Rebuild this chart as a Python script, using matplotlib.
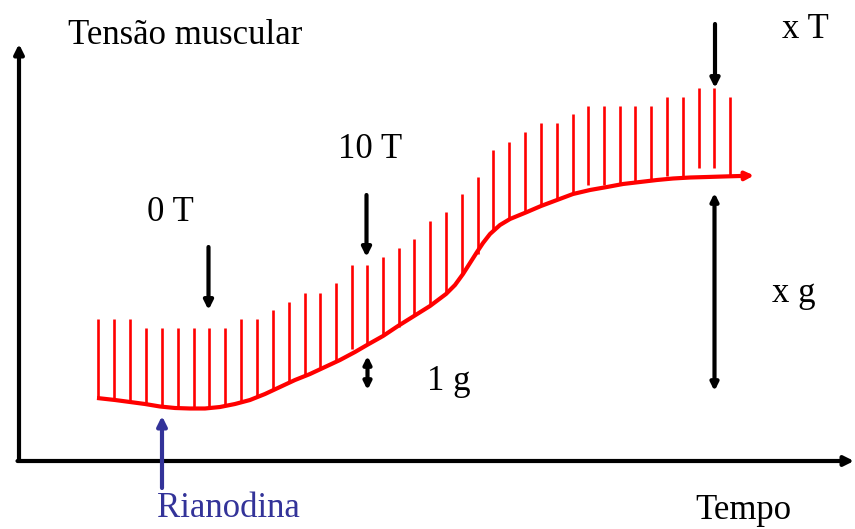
import matplotlib
matplotlib.use("Agg")
import matplotlib.pyplot as plt

# Schematic values (pixel units, y grows downward)
twitch_x = [98, 114, 129.5, 145.5, 161.5, 177.5, 193.5, 209, 225, 241, 256.5,
            272.5, 288.5, 304.5, 320, 336, 351.5, 367, 383, 398.5, 414, 430,
            446, 461.5, 477.5, 493, 509, 525, 541, 556.5, 572.5, 588, 603.5,
            619.5, 635, 651, 667, 682.5, 698.5, 714, 730]
twitch_top = [319, 319, 319, 328, 328, 328, 328, 328, 328, 319, 319,
              310, 302, 293, 293, 283, 265, 265, 257, 248, 239, 221,
              212, 194, 177, 150, 142, 132, 123, 123, 114, 106, 106,
              106, 106, 106, 97, 97, 88, 88, 97]
twitch_bottom = [398, 399, 401, 404, 406, 408, 408, 408, 406, 402, 397,
                 390, 382, 375, 369, 362, 349, 345, 336, 327, 315, 304,
                 292, 275, 254, 230, 220, 213, 206, 200, 194, 185, 185,
                 185, 183, 180, 176, 176, 168, 168, 176]

baseline_x = [97, 115, 130, 145, 160, 175, 190, 205, 220, 235, 250, 265, 280,
              295, 310, 325, 340, 355, 367, 383, 398, 414, 430, 446, 455, 463,
              470, 477, 483, 490, 500, 510, 527, 541, 557, 573, 590, 607, 623,
              640, 657, 673, 690, 707, 723, 740]
baseline_y = [398, 400, 402, 404, 406.5, 408, 408.5, 408.5, 407, 404, 400, 394,
              387, 380, 374, 367, 360, 352, 345, 336, 326, 316, 306, 294, 285,
              274, 263, 252, 243, 234, 225, 219, 212, 206, 200, 194, 190, 187,
              184, 182, 180, 178.5, 177.5, 177, 176.5, 176]

RED = '#FF0000'
BLUE = '#333399'
FONT = 'Liberation Serif'
FS = 25

fig = plt.figure(figsize=(8.55, 5.29), dpi=100)
ax = fig.add_axes([0, 0, 1, 1])
ax.set_xlim(0, 855)
ax.set_ylim(529, 0)
ax.set_axis_off()

# Axes arrows
arrow_k = dict(arrowstyle='-|>', color='black', lw=3, mutation_scale=14,
               shrinkA=0, shrinkB=0)
ax.annotate("", xy=(19, 44), xytext=(19, 461), arrowprops=arrow_k)
ax.annotate("", xy=(854, 461), xytext=(17.5, 461), arrowprops=arrow_k)

# Twitches and baseline tension
ax.vlines(twitch_x, twitch_bottom, twitch_top, color=RED, lw=1.9)
ax.plot(baseline_x, baseline_y, color=RED, lw=3, solid_capstyle='butt',
        solid_joinstyle='round')
ax.annotate("", xy=(754, 175.5), xytext=(baseline_x[-1], baseline_y[-1]),
            arrowprops=dict(arrowstyle='-|>', color=RED, lw=3,
                            mutation_scale=12, shrinkA=0, shrinkB=0))

# Stimulus arrows
down_k = dict(arrowstyle='-|>', color='black', lw=3, mutation_scale=13,
              shrinkA=0, shrinkB=0)
ax.annotate("", xy=(208.5, 310), xytext=(208.5, 247), arrowprops=down_k)
ax.annotate("", xy=(366.5, 257), xytext=(366.5, 195), arrowprops=down_k)
ax.annotate("", xy=(715, 88), xytext=(715, 24), arrowprops=down_k)

both_k = dict(arrowstyle='<|-|>', color='black', lw=3, mutation_scale=11,
              shrinkA=0, shrinkB=0)
ax.annotate("", xy=(367.5, 356), xytext=(367.5, 390), arrowprops=both_k)
ax.annotate("", xy=(714.5, 193), xytext=(714.5, 391), arrowprops=both_k)

# Rianodina arrow
ax.annotate("", xy=(162, 416), xytext=(162, 488),
            arrowprops=dict(arrowstyle='-|>', color=BLUE, lw=3,
                            mutation_scale=14, shrinkA=0, shrinkB=0))

# Text
txt = dict(family=FONT, fontsize=FS, ha='left', va='baseline', color='black')
ax.text(68, 44, "Tensão muscular", **txt)
ax.text(147, 221, "0 T", **txt)
ax.text(338, 158, "10 T", **txt)
ax.text(782, 38, "x T", **txt)
ax.text(772, 302, "x g", **txt)
ax.text(427, 390, "1 g", **txt)
ax.text(695, 519, "Tempo", **txt)
ax.text(157, 517, "Rianodina", family=FONT, fontsize=FS, ha='left',
        va='baseline', color=BLUE)

fig.savefig("out.png", dpi=100)
